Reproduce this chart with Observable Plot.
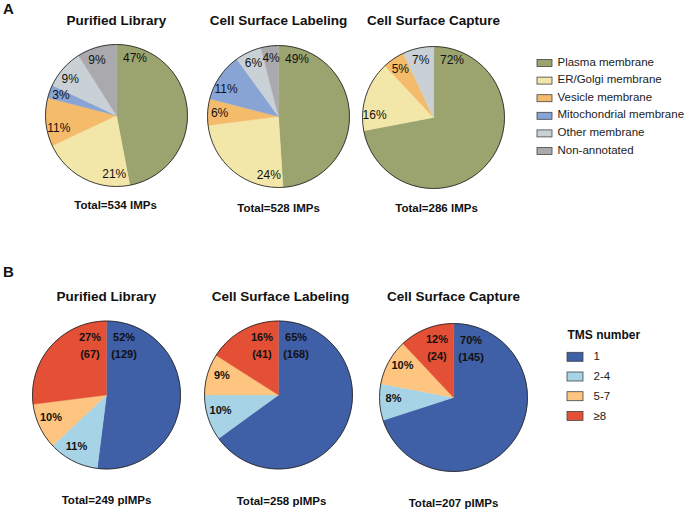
<!DOCTYPE html>
<html><head><meta charset="utf-8">
<script src="https://cdn.jsdelivr.net/npm/d3@7"></script>
<script src="https://cdn.jsdelivr.net/npm/@observablehq/plot@0.6"></script>
<style>body{margin:0;background:#fff}</style>
</head><body><div id="chart"></div>
<script>
// ---------- DATA ----------
const membraneCategories = ["Plasma membrane","ER/Golgi membrane","Vesicle membrane","Mitochondrial membrane","Other membrane","Non-annotated"];
const sampleNames = ["Purified Library","Cell Surface Labeling","Cell Surface Capture"];
const pctPurifiedA = [47,21,11,3,9,9];
const pctLabelingA = [49,24,6,11,6,4];
const pctCaptureA  = [72,16,5,0,7,0];
const totalsA = [534,528,286];

const tmsCategories = ["1","2-4","5-7","≥8"];
const pctPurifiedB = [52,11,10,27];
const pctLabelingB = [65,10,9,16];
const pctCaptureB  = [70,8,10,12];
const countsTms1 = [129,168,145];
const countsTms8 = [67,41,24];
const totalsB = [249,258,207];

// ---------- STYLE / LAYOUT ----------
const membraneColors = ["#9ba46e","#f2e6a8","#f4bb6b","#88a4d4","#c9d1d6","#aaa9ad"];
const tmsColors = ["#3f5fa6","#a6d3e6","#fdc57f","#e45035"];
const FONT = "Liberation Sans, Arial, Helvetica, sans-serif";
const W = 693, H = 522;
const RA = 71, RB = 74;
const centersA = [[116,115],[278,116],[433,117]];
const centersB = [[106,394.5],[278,394.5],[453,397]];
const deg = Math.PI/180;

function buildPie(values, colors, [cx, cy], r, key, labelRule) {
  const arcs = d3.pie().sort(null).value(d => d)(values);
  const pts = [], labels = [];
  arcs.forEach((a, i) => {
    if (a.value <= 0) return;
    const id = key + "-" + i;
    pts.push({id, x: cx, y: cy, color: colors[i]});
    const n = Math.max(2, Math.ceil((a.endAngle - a.startAngle) / deg));
    for (let k = 0; k <= n; k++) {
      const t = a.startAngle + (a.endAngle - a.startAngle) * k / n;
      pts.push({id, x: cx + r * Math.sin(t), y: cy - r * Math.cos(t), color: colors[i]});
    }
    const [ang, rr] = labelRule(a, i, arcs.length);
    labels.push({x: cx + rr * Math.sin(ang), y: cy - rr * Math.cos(ang), text: a.value + "%", i});
  });
  return {pts, labels};
}

const ruleA = (a, i) => i === 0
  ? [a.startAngle + 18*deg, 60]
  : [a.startAngle + Math.min((a.endAngle - a.startAngle)/2, 13*deg), 59];
const ruleB = (a, i, n) => {
  if (i === 0) return [a.startAngle + 17*deg, 60];
  if (i === n - 1) return [a.endAngle - 16*deg, 60];
  return [(a.startAngle + a.endAngle)/2 + 3*deg, 60];
};

const seriesA = [pctPurifiedA, pctLabelingA, pctCaptureA];
const seriesB = [pctPurifiedB, pctLabelingB, pctCaptureB];
const piesA = seriesA.map((v, j) => buildPie(v, membraneColors, centersA[j], RA, "A" + j, ruleA));
const piesB = seriesB.map((v, j) => buildPie(v, tmsColors, centersB[j], RB, "B" + j, ruleB));

const slicePts = [...piesA, ...piesB].flatMap(p => p.pts);
const labelsA = piesA.flatMap(p => p.labels);
const labelsB = piesB.flatMap(p => p.labels);
const countLabels = piesB.flatMap((p, j) => p.labels
  .filter(l => l.i === 0 || l.i === tmsCategories.length - 1)
  .map(l => ({x: l.x, y: l.y + 17, text: "(" + (l.i === 0 ? countsTms1[j] : countsTms8[j]) + ")"})));

const titlesA = sampleNames.map((s, j) => ({x: centersA[j][0], y: 20, text: s}));
const titlesB = sampleNames.map((s, j) => ({x: centersB[j][0] + [0, 2, 0][j], y: 296, text: s}));
const totA = totalsA.map((t, j) => ({x: centersA[j][0] + [-1, 0, 3][j], y: [205, 207.5, 207.5][j], text: `Total=${t} IMPs`}));
const totB = totalsB.map((t, j) => ({x: centersB[j][0] + [0, 3, 0][j], y: [500, 501, 503][j], text: `Total=${t} pIMPs`}));

const legA = membraneCategories.map((c, i) => ({c, color: membraneColors[i], y: 61.5 + i * 17.6}));
const legB = tmsCategories.map((c, i) => ({c, color: tmsColors[i], y: 356.8 + i * 19.7}));

const outline = {x: d => d[0], y: d => d[1], fill: "none", stroke: "#2a2a2a", strokeWidth: 0.9};

const chart = Plot.plot({
  width: W, height: H, margin: 0,
  x: {domain: [0, W], range: [0, W], axis: null},
  y: {domain: [0, H], range: [0, H], axis: null},
  style: {fontFamily: FONT, background: "white", color: "#111"},
  marks: [
    Plot.line(slicePts, {x: "x", y: "y", z: "id", fill: "color", stroke: "color", strokeWidth: 0.4, curve: "linear-closed"}),
    Plot.dot(centersA, {...outline, r: RA}),
    Plot.dot(centersB, {...outline, r: RB}),
    Plot.text(labelsA, {x: "x", y: "y", text: "text", fontSize: 12, fill: "#111"}),
    Plot.text(labelsB, {x: "x", y: "y", text: "text", fontSize: 11, fontWeight: "bold", fill: "#111"}),
    Plot.text(countLabels, {x: "x", y: "y", text: "text", fontSize: 11, fontWeight: "bold", fill: "#111"}),
    Plot.text([...titlesA, ...titlesB], {x: "x", y: "y", text: "text", fontSize: 13.5, fontWeight: "bold", fill: "#111"}),
    Plot.text([...totA, ...totB], {x: "x", y: "y", text: "text", fontSize: 11.5, fontWeight: "bold", fill: "#111"}),
    Plot.text([{t: "A", y: 9}, {t: "B", y: 272}], {x: 8, y: "y", text: "t", fontSize: 15, fontWeight: "bold", fill: "#111"}),
    // legend A
    Plot.rect(legA, {x1: 537, x2: 552, y1: d => d.y - 2, y2: d => d.y + 5, fill: "color", stroke: "#444", strokeWidth: 0.8}),
    Plot.text(legA, {x: 557, y: "y", text: "c", textAnchor: "start", fontSize: 11.5, fill: "#222"}),
    // legend B
    Plot.text([{t: "TMS number"}], {x: 567, y: 335, text: "t", textAnchor: "start", fontSize: 12, fontWeight: "bold", fill: "#111"}),
    Plot.rect(legB, {x1: 567, x2: 583, y1: d => d.y - 4.5, y2: d => d.y + 4.5, fill: "color", stroke: "#444", strokeWidth: 0.8}),
    Plot.text(legB, {x: 593, y: d => d.y - 0.5, text: "c", textAnchor: "start", fontSize: 11.5, fill: "#222"})
  ]
});
document.getElementById("chart").appendChild(chart);
</script>
</body></html>
